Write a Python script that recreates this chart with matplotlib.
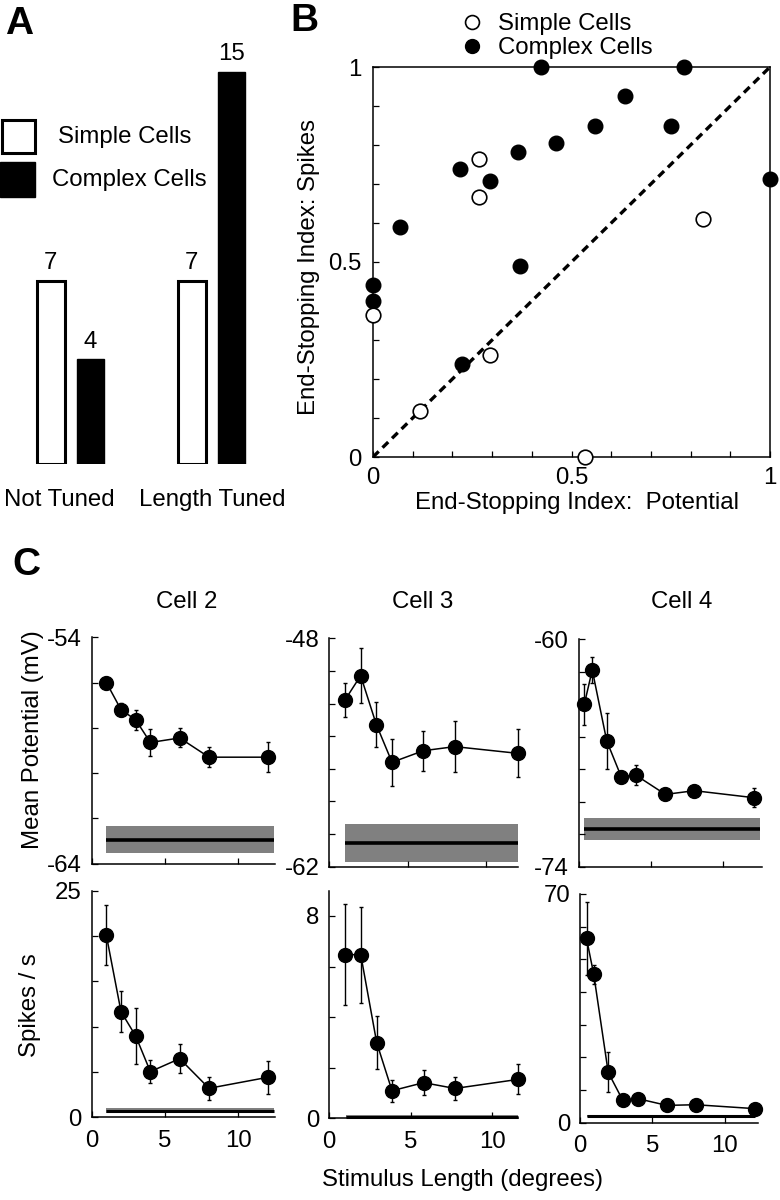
import numpy as np
import matplotlib
matplotlib.use("Agg")
import matplotlib.pyplot as plt
from matplotlib.patches import Rectangle
from matplotlib.lines import Line2D

plt.rcParams['font.family'] = ['Liberation Sans', 'DejaVu Sans']

# ---------------- data ----------------
# Panel A
categories = ['Not Tuned', 'Length Tuned']
simple_counts = [7, 7]
complex_counts = [4, 15]

# Panel B
simple_x = [0.268, 0.268, 0.830, 0.0, 0.295, 0.119, 0.533]
simple_y = [0.765, 0.667, 0.611, 0.363, 0.261, 0.118, 0.0]
complex_x = [0.423, 0.784, 0.636, 0.560, 0.751, 0.460, 0.364, 0.220,
             0.294, 0.067, 1.0, 0.371, 0.0, 0.0, 0.223]
complex_y = [1.0, 1.0, 0.925, 0.848, 0.848, 0.806, 0.782, 0.738,
             0.707, 0.591, 0.714, 0.490, 0.440, 0.399, 0.239]

# Panel C  (stimulus length in degrees)
cell_names = ['Cell 2', 'Cell 3', 'Cell 4']

len_vm_c2 = [1, 2, 3, 4, 6, 8, 12]
vm_c2 = [-56.0, -57.2, -57.65, -58.65, -58.45, -59.3, -59.3]
vm_err_c2 = [0.15, 0.3, 0.43, 0.6, 0.42, 0.43, 0.66]
len_spk_c2 = [1, 2, 3, 4, 6, 8, 12]
spk_c2 = [20.07, 11.65, 8.97, 5.04, 6.47, 3.2, 4.41]
spk_err_c2 = [3.3, 2.26, 3.1, 1.3, 1.6, 1.3, 1.84]

len_vm_c3 = [1, 2, 3, 4, 6, 8, 12]
vm_c3 = [-51.78, -50.29, -53.29, -55.6, -54.89, -54.64, -55.05]
vm_err_c3 = [1.02, 1.69, 1.36, 1.45, 1.23, 1.58, 1.47]
len_spk_c3 = [0.98, 1.93, 2.91, 3.85, 5.79, 7.71, 11.6]
spk_c3 = [6.47, 6.47, 2.99, 1.09, 1.41, 1.18, 1.54]
spk_err_c3 = [1.99, 1.9, 1.04, 0.43, 0.5, 0.46, 0.59]

len_vm_c4 = [0.4, 0.95, 1.95, 2.95, 3.95, 6.0, 8.0, 12.1]
vm_c4 = [-64.0, -61.89, -66.26, -68.46, -68.36, -69.55, -69.32, -69.75]
vm_err_c4 = [1.25, 0.82, 1.7, 0.2, 0.6, 0.2, 0.2, 0.6]
len_spk_c4 = [0.45, 0.95, 1.95, 2.95, 4.0, 6.0, 8.0, 12.1]
spk_c4 = [56.4, 45.4, 15.4, 6.9, 7.35, 5.3, 5.5, 4.3]
spk_err_c4 = [11.2, 3.0, 6.1, 0.8, 0.8, 0.6, 0.6, 0.8]

# spontaneous (no stimulus) level: mean, sd, stimulus-range extent
vm_spont = [-62.94, -60.57, -71.68]
vm_spont_sd = [0.58, 1.17, 0.66]
vm_spont_span = [(1.0, 12.45), (1.0, 12.0), (0.4, 12.5)]
spk_spont = [0.74, 0.07, 2.0]
spk_spont_sd = [0.28, 0.06, 0.35]
spk_spont_span = [(1.0, 12.4), (1.02, 11.6), (0.45, 12.1)]

vm_ylim = [(-64, -54), (-62, -48), (-74, -60)]
spk_ylim = [(0, 25), (0, 9), (0, 70)]
spk_yticks = [[0, 5, 10, 15, 20, 25], [0, 2, 4, 6, 8], [0, 10, 20, 30, 40, 50, 60, 70]]
spk_ytick_labels = [['0', '', '', '', '', '25'], ['0', '', '', '', '8'],
                    ['0', '', '', '', '', '', '', '70']]
vm_xlim = [12.5, 12.05, 12.65]
spk_xlim = [12.5, 11.6, 12.32]

# ---------------- figure ----------------
W, H = 780, 1200
fig = plt.figure(figsize=(W / 100, H / 100), dpi=100)
FS = 17.3


def add_ax(l, t, r, b):
    return fig.add_axes([l / W, 1 - b / H, (r - l) / W, (b - t) / H])


def ftext(px, py, s, **kw):
    fig.text(px / W, 1 - py / H, s, **kw)


# ---- Panel A ----
axA = add_ax(0, 40, 300, 464)
xg = np.arange(len(categories))
off, bw = 0.14, 0.2
axA.bar(xg - off, simple_counts, width=bw, color='white', edgecolor='black', linewidth=2.2)
axA.bar(xg + off, complex_counts, width=bw * 0.95, color='black', edgecolor='black', linewidth=1)
for xi, v in zip(xg - off, simple_counts):
    axA.annotate(str(v), (xi, v), xytext=(0, 5), textcoords='offset points',
                 ha='center', va='bottom', fontsize=FS)
for xi, v in zip(xg + off, complex_counts):
    axA.annotate(str(v), (xi, v), xytext=(0, 5), textcoords='offset points',
                 ha='center', va='bottom', fontsize=FS)
axA.set_xlim(-0.5, 1.628)
axA.set_ylim(0, 424 / 26.13)
axA.axis('off')
axA.text(-0.08, -1.38, categories[0], ha='center', va='center', fontsize=FS)
axA.text(1.004, -1.38, categories[1], ha='center', va='center', fontsize=FS)
# legend squares
axA.add_patch(Rectangle((0.008, 0.7335), 0.108, 0.0778, transform=axA.transAxes,
                        facecolor='white', edgecolor='black', linewidth=2.2, clip_on=False))
axA.add_patch(Rectangle((0.0, 0.6297), 0.1167, 0.0826, transform=axA.transAxes,
                        facecolor='black', edgecolor='black', linewidth=1, clip_on=False))
axA.text(0.193, 0.771, 'Simple Cells', transform=axA.transAxes, ha='left', va='center', fontsize=FS)
axA.text(0.173, 0.670, 'Complex Cells', transform=axA.transAxes, ha='left', va='center', fontsize=FS)

# ---- Panel B ----
axB = add_ax(373, 67, 770, 457)
axB.plot([0, 1], [0, 1], color='black', lw=2.4, dashes=(2.4, 1.6))
axB.plot(complex_x, complex_y, 'o', color='black', ms=10.5, clip_on=False, zorder=3)
axB.plot(simple_x, simple_y, 'o', mfc='white', mec='black', mew=1.2, ms=10.5,
         clip_on=False, zorder=3)
axB.set_xlim(0, 1)
axB.set_ylim(0, 1)
ticks01 = np.round(np.arange(0, 1.01, 0.1), 1)
axB.set_xticks(ticks01)
axB.set_yticks(ticks01)
lab01 = ['0' if t == 0 else '0.5' if t == 0.5 else '1' if t == 1 else '' for t in ticks01]
axB.set_xticklabels(lab01)
axB.set_yticklabels(lab01)
axB.tick_params(direction='in', length=4, width=0.9, labelsize=FS)
axB.tick_params(axis='x', pad=7)
axB.tick_params(axis='y', pad=8)
for sp in axB.spines.values():
    sp.set_linewidth(1.1)
h1 = Line2D([], [], marker='o', ls='none', mfc='white', mec='black', mew=1.2, ms=10)
h2 = Line2D([], [], marker='o', ls='none', color='black', ms=10)
fig.legend([h1, h2], ['Simple Cells', 'Complex Cells'], loc='center left',
           bbox_to_anchor=(460 / W, 1 - 36 / H), frameon=False, fontsize=FS,
           handlelength=1.0, handletextpad=0.6, labelspacing=0.08, borderpad=0,
           borderaxespad=0)
ftext(309, 267, 'End-Stopping Index: Spikes', rotation=90, ha='center', va='center', fontsize=FS)
ftext(577, 503, 'End-Stopping Index:  Potential', ha='center', va='center', fontsize=FS)

# ---- Panel C ----
vm_boxes = [(91.7, 637.3, 275, 863.5), (329.3, 638.3, 518.3, 866.7), (578.5, 639.3, 761.7, 866.7)]
spk_boxes = [(91.7, 890.7, 275, 1117.3), (329.3, 890.7, 518.3, 1118.3), (580, 894, 758.3, 1122.7)]
vm_len = [len_vm_c2, len_vm_c3, len_vm_c4]
vm_vals = [vm_c2, vm_c3, vm_c4]
vm_errs = [vm_err_c2, vm_err_c3, vm_err_c4]
spk_len = [len_spk_c2, len_spk_c3, len_spk_c4]
spk_vals = [spk_c2, spk_c3, spk_c4]
spk_errs = [spk_err_c2, spk_err_c3, spk_err_c4]
title_x = [187, 423, 682]

def style(ax):
    ax.spines['top'].set_visible(False)
    ax.spines['right'].set_visible(False)
    for s in ('left', 'bottom'):
        ax.spines[s].set_linewidth(1.1)
    ax.tick_params(direction='in', length=4, width=0.9, labelsize=FS)
    ax.tick_params(axis='y', pad=7)
    ax.tick_params(axis='x', pad=9)

for i in range(3):
    # potential
    ax = add_ax(*vm_boxes[i])
    x0, x1 = vm_spont_span[i]
    ax.fill_between([x0, x1], vm_spont[i] - vm_spont_sd[i], vm_spont[i] + vm_spont_sd[i],
                    color='#808080', lw=0)
    ax.plot([x0, x1], [vm_spont[i]] * 2, color='black', lw=2.6, solid_capstyle='butt')
    ax.errorbar(vm_len[i], vm_vals[i], yerr=vm_errs[i], fmt='-o', color='black', lw=1.1,
                ms=10, elinewidth=1.0, capsize=1.6, capthick=1.0, clip_on=False)
    ax.set_xlim(0, vm_xlim[i])
    ax.set_ylim(*vm_ylim[i])
    lo, hi = vm_ylim[i]
    yt = np.arange(lo, hi + 1, 2)
    ax.set_yticks(yt)
    ax.set_yticklabels([str(int(t)) if t in (lo, hi) else '' for t in yt])
    ax.set_xticks([0, 5, 10])
    ax.set_xticklabels([])
    style(ax)
    ftext(title_x[i], 602, cell_names[i], ha='center', va='center', fontsize=FS)

    # spikes
    ax = add_ax(*spk_boxes[i])
    x0, x1 = spk_spont_span[i]
    ax.fill_between([x0, x1], spk_spont[i] - spk_spont_sd[i], spk_spont[i] + spk_spont_sd[i],
                    color='#808080', lw=0, clip_on=False)
    ax.plot([x0, x1], [spk_spont[i]] * 2, color='black', lw=2.2, solid_capstyle='butt',
            clip_on=False)
    ax.errorbar(spk_len[i], spk_vals[i], yerr=spk_errs[i], fmt='-o', color='black', lw=1.1,
                ms=10, elinewidth=1.0, capsize=1.6, capthick=1.0, clip_on=False)
    ax.set_xlim(0, spk_xlim[i])
    ax.set_ylim(*spk_ylim[i])
    ax.set_yticks(spk_yticks[i])
    ax.set_yticklabels(spk_ytick_labels[i])
    ax.set_xticks([0, 5, 10])
    ax.set_xticklabels(['0', '5', '10'])
    style(ax)

ftext(33, 740, 'Mean Potential (mV)', rotation=90, ha='center', va='center', fontsize=FS)
ftext(30, 1005, 'Spikes / s', rotation=90, ha='center', va='center', fontsize=FS)
ftext(463, 1180, 'Stimulus Length (degrees)', ha='center', va='center', fontsize=FS)

# panel letters
ftext(19, 24, 'A', ha='center', va='center', fontsize=28, fontweight='bold')
ftext(304, 21, 'B', ha='center', va='center', fontsize=28, fontweight='bold')
ftext(26, 565, 'C', ha='center', va='center', fontsize=28, fontweight='bold')

fig.savefig('out.png', dpi=100)
